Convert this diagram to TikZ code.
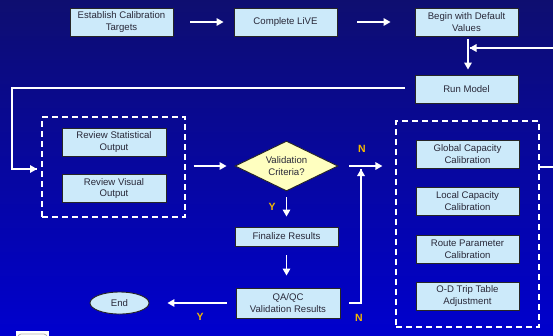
\documentclass[tikz,border=0pt]{standalone}
\usepackage{fontspec}
\setmainfont{Liberation Sans}
\usetikzlibrary{shapes.geometric,arrows.meta}
\definecolor{bgtop}{RGB}{14,14,112}
\definecolor{bgbot}{RGB}{0,0,206}
\definecolor{boxfill}{RGB}{204,234,250}
\definecolor{dfill}{RGB}{255,255,192}
\definecolor{txt}{RGB}{40,40,56}
\definecolor{lab}{RGB}{245,184,0}
\tikzset{
  stepbox/.style={draw=black!85, line width=0.9pt, fill=boxfill, text=txt,
    font=\fontsize{9.6}{11.8}\selectfont, align=center, inner sep=1pt,
    minimum width=103pt, minimum height=28pt},
  dbox/.style={draw=white, line width=1.2pt, dash pattern=on 6pt off 4pt},
  decide/.style={diamond, draw=black!85, line width=0.9pt, fill=dfill, text=txt,
    font=\fontsize{9.6}{11.8}\selectfont, align=center, inner sep=0pt,
    aspect=2.06, minimum width=103pt, minimum height=50pt},
  endnode/.style={ellipse, draw=black!85, line width=0.9pt, fill=boxfill, text=txt,
    font=\fontsize{9.6}{11.8}\selectfont, inner sep=0pt,
    minimum width=59pt, minimum height=22pt},
  flow/.style={draw=white, line width=1.6pt, -{Triangle[length=7pt,width=7.5pt]}},
  wline/.style={draw=white, line width=1.6pt},
  yn/.style={text=lab, font=\bfseries\fontsize{10.5}{12}\selectfont, inner sep=0pt}
}
\begin{document}
\begin{tikzpicture}[x=1pt,y=-1pt]
\useasboundingbox (0,0) rectangle (553,335);
\shade[top color=bgtop, bottom color=bgbot] (0,0) rectangle (553,335);

% partial icon at bottom-left
\fill[white] (16,331) rectangle (49,340);
\draw[gray!60, line width=0.8pt, rounded corners=3pt] (18,334) rectangle (47,345);

% dashed group boxes
\node[dbox, minimum width=143pt, minimum height=100pt] (lbox) at (113.5,167) {};
\node[dbox, minimum width=143pt, minimum height=206pt] (rbox) at (467.5,224) {};

% process boxes
\node[stepbox] (est) at (121.5,22) {Establish Calibration\\Targets};
\node[stepbox] (live) at (285.5,22) {Complete LiVE};
\node[stepbox] (begin) at (466.5,22) {Begin with Default\\Values};
\node[stepbox] (run) at (466.5,89) {Run Model};
\node[stepbox, minimum width=104pt] (stat) at (114,142) {Review Statistical\\Output};
\node[stepbox, minimum width=104pt] (vis) at (114,188.5) {Review Visual\\Output};
\node[decide] (val) at (286.5,166) {Validation\\Criteria?};
\node[stepbox, minimum height=19pt] (fin) at (286.5,236.5) {Finalize Results};
\node[stepbox, minimum width=104pt, minimum height=30pt] (qa) at (288,303) {QA/QC\\Validation Results};
\node[endnode] (end) at (119.5,303) {End};
\node[stepbox] (glob) at (467.5,154) {Global Capacity\\Calibration};
\node[stepbox] (loc) at (467.5,201) {Local Capacity\\Calibration};
\node[stepbox] (route) at (467.5,249) {Route Parameter\\Calibration};
\node[stepbox] (od) at (467.5,296) {O-D Trip Table\\Adjustment};

% helper coordinates
\coordinate (fbR) at (556,167);
\coordinate (fbT) at (556,48);
\coordinate (fbEnd) at (469.5,48);
\coordinate (runL) at (405,88);
\coordinate (corner1) at (12,88);
\coordinate (corner2) at (12,169);
\coordinate (lboxIn) at (37,169);
\coordinate (qaR) at (361,303);
\coordinate (upEnd) at (361,169);

% connectors
\draw[flow, shorten <=17pt, shorten >=10pt] (est.east) -- (live.west);
\draw[flow, shorten <=20pt, shorten >=24pt] (live.east) -- (begin.west);
\draw[flow, shorten <=3pt, shorten >=5pt] ([xshift=1.5pt]begin.south) -- ([xshift=1.5pt]run.north);
\draw[wline] (rbox.east |- fbR) -- (fbR) -- (fbT) -- (fbEnd);
\draw[flow] (fbT) -- (fbEnd);
\draw[wline] (runL) -- (corner1) -- (corner2) -- (lboxIn);
\draw[flow] (corner2) -- (lboxIn);
\draw[flow, shorten <=8pt, shorten >=8pt] (lbox.east |- val.west) -- (val.west);
\draw[flow, shorten <=11pt, shorten >=13pt] (val.east) -- (rbox.west |- val.east);
\draw[flow, shorten <=6pt, shorten >=10pt] (val.south) -- (fin.north);
\draw[flow, shorten <=9pt, shorten >=12pt] (fin.south) -- (fin.south |- qa.north);
\draw[flow, shorten <=9pt, shorten >=18pt] (qa.west) -- (end.east);
\draw[wline, shorten <=9pt] (qa.east) -- (qaR) -- (upEnd);
\draw[flow] (qaR) -- (upEnd);

% labels
\node[yn] (nTop) at (362,149) {N};
\node[yn] (nBot) at (359,318) {N};
\node[yn] (yTop) at (272,207) {Y};
\node[yn] (yBot) at (200,317) {Y};
\end{tikzpicture}
\end{document}
